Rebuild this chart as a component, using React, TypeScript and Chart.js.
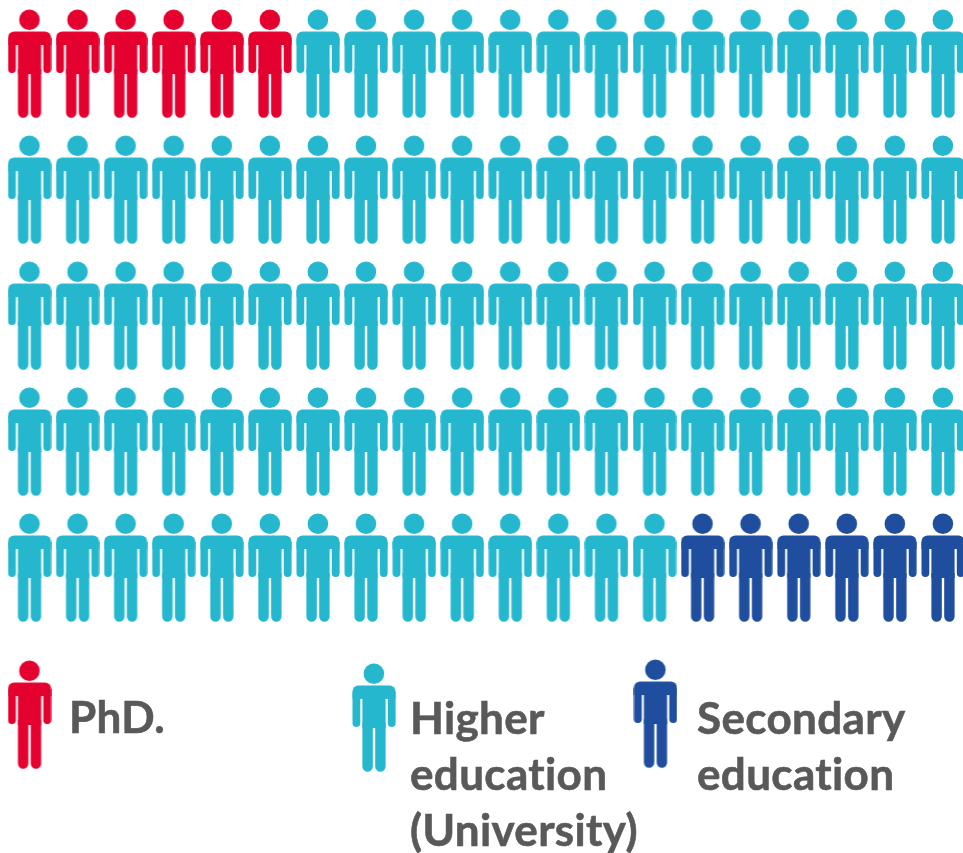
import React, { useEffect, useRef } from "react";
import { Chart, registerables } from "chart.js";

Chart.register(...registerables);

const categories = ["PhD.", "Higher education (University)", "Secondary education"];
const counts = [6, 88, 6];
const colors = ["#E4002F", "#25B7CE", "#1F4E9E"];
const columnsPerRow = 20;
const legendColumns = [0, 7.165, 13.02];
const legendRows = [5.167, 5.19, 5.159];
const legendLines = [["PhD."], ["Higher", "education", "(University)"], ["Secondary", "education"]];
const legendTextPos = [
  { left: 69, top: 688 },
  { left: 410, top: 689 },
  { left: 697, top: 689 },
];

function personIcon(color: string): HTMLCanvasElement {
  const c = document.createElement("canvas");
  c.width = 44;
  c.height = 110;
  const g = c.getContext("2d")!;
  g.fillStyle = color;
  g.beginPath();
  g.arc(21.9, 10.8, 10.3, 0, Math.PI * 2);
  g.fill();
  g.beginPath();
  g.roundRect(0.5, 22.5, 43, 13.5, [6, 6, 0, 0]);
  g.fill();
  g.beginPath();
  g.roundRect(0.5, 29, 7.8, 35, [0, 0, 3.9, 3.9]);
  g.roundRect(35.8, 29, 7.8, 35, [0, 0, 3.9, 3.9]);
  g.fill();
  g.beginPath();
  g.rect(10.4, 23, 23.2, 42);
  g.fill();
  g.beginPath();
  g.roundRect(10.4, 60, 10.4, 48.8, [0, 0, 5.2, 5.2]);
  g.roundRect(23.2, 60, 10.4, 48.8, [0, 0, 5.2, 5.2]);
  g.fill();
  return c;
}

function buildPoints(): { x: number; y: number }[][] {
  let n = 0;
  return counts.map((count, s) => {
    const pts: { x: number; y: number }[] = [];
    for (let i = 0; i < count; i++, n++) {
      pts.push({ x: n % columnsPerRow, y: Math.floor(n / columnsPerRow) });
    }
    pts.push({ x: legendColumns[s], y: legendRows[s] });
    return pts;
  });
}

export default function App() {
  const ref = useRef<HTMLCanvasElement>(null);
  useEffect(() => {
    const points = buildPoints();
    const chart = new Chart(ref.current!, {
      type: "scatter",
      data: {
        datasets: categories.map((label, s) => ({
          label,
          data: points[s],
          pointStyle: personIcon(colors[s]),
          backgroundColor: colors[s],
          borderColor: colors[s],
          clip: false,
        })),
      },
      options: {
        animation: false,
        responsive: false,
        layout: { padding: 0, autoPadding: false },
        plugins: { legend: { display: false }, tooltip: { enabled: false }, title: { display: false } },
        scales: {
          x: { type: "linear", display: false, min: -0.6136, max: 19.416 },
          y: { type: "linear", display: false, reverse: true, min: -0.508, max: 6.262 },
        },
      },
    });
    return () => chart.destroy();
  }, []);

  return (
    <div style={{ position: "absolute", left: 0, top: 0, width: 963, height: 853, overflow: "hidden", background: "#fff" }}>
      <canvas ref={ref} width={963} height={853} style={{ display: "block", width: 963, height: 853 }} />
      {legendLines.map((lines, s) => (
        <div
          key={s}
          style={{
            position: "absolute",
            left: legendTextPos[s].left,
            top: legendTextPos[s].top,
            font: "bold 44px/56px Lato, sans-serif",
            fontVariantLigatures: "none",
            letterSpacing: "0.35px",
            WebkitTextStroke: "0.6px #595959",
            color: "#595959",
            whiteSpace: "nowrap",
          }}
        >
          {lines.map((t) => (
            <div key={t}>{t}</div>
          ))}
        </div>
      ))}
    </div>
  );
}
